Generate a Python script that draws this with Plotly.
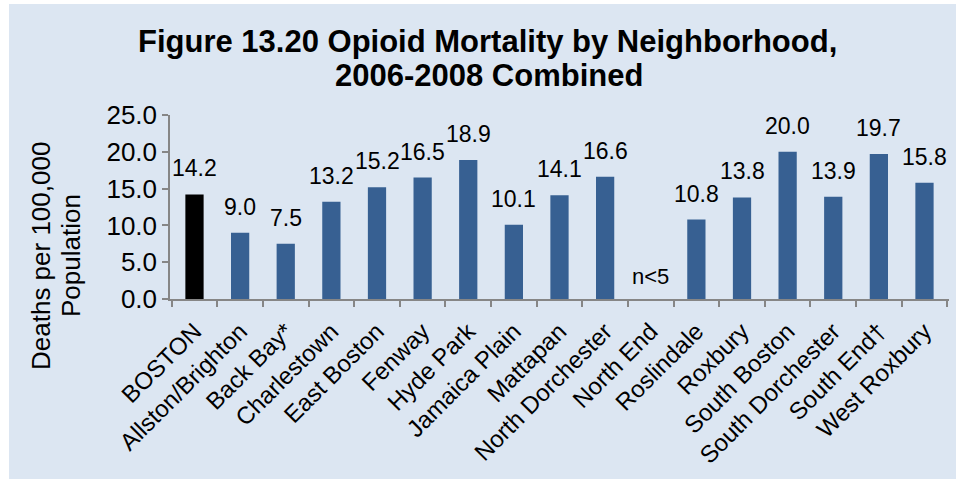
import plotly.graph_objects as go

categories = ["BOSTON", "Allston/Brighton", "Back Bay*", "Charlestown", "East Boston",
              "Fenway", "Hyde Park", "Jamaica Plain", "Mattapan", "North Dorchester",
              "North End", "Roslindale", "Roxbury", "South Boston", "South Dorchester",
              "South End\u2020", "West Roxbury"]
values = [14.2, 9.0, 7.5, 13.2, 15.2, 16.5, 18.9, 10.1, 14.1, 16.6,
          None, 10.8, 13.8, 20.0, 13.9, 19.7, 15.8]
suppressed_label = "n<5"
y_ticks = [0, 5, 10, 15, 20, 25]
title_lines = ["Figure 13.20 Opioid Mortality by Neighborhood,", "2006-2008 Combined"]
y_title_lines = ["Deaths per 100,000", "Population"]

FONT = "Arial, Liberation Sans, sans-serif"
BLUE = "#376092"
colors = ["#000000" if c == "BOSTON" else BLUE for c in categories]

W, H = 956, 479
ML, MR, MT, MB = 170, 7, 115, 180
pw = W - ML - MR
ph = H - MT - MB


def px_x(x):
    return (x - ML) / pw


def px_y(y):
    return (H - MB - y) / ph


fig = go.Figure(go.Bar(
    x=categories, y=values, marker=dict(color=colors, line=dict(width=0)),
    width=0.4, hoverinfo="x+y",
))

# data labels
for c, v in zip(categories, values):
    if v is None:
        fig.add_annotation(x=c, y=0, yref="y", text=suppressed_label, showarrow=False,
                           yanchor="bottom", yshift=8,
                           font=dict(family=FONT, size=22, color="#000000"))
    else:
        fig.add_annotation(x=c, y=v, yref="y", text=f"{v:.1f}", showarrow=False,
                           yanchor="bottom", yshift=11,
                           font=dict(family=FONT, size=23, color="#000000"))

# title (two lines, tight spacing)
fig.add_annotation(xref="paper", yref="paper", x=px_x(487), y=px_y(41),
                   text=f"<b>{title_lines[0]}</b>", showarrow=False,
                   xanchor="center", yanchor="middle",
                   font=dict(family=FONT, size=31, color="#000000"))
fig.add_annotation(xref="paper", yref="paper", x=px_x(489), y=px_y(75.5),
                   text=f"<b>{title_lines[1]}</b>", showarrow=False,
                   xanchor="center", yanchor="middle",
                   font=dict(family=FONT, size=31, color="#000000"))

# y-axis title (two rotated lines)
fig.add_annotation(xref="paper", yref="paper", x=px_x(41), y=px_y(256),
                   text=y_title_lines[0], showarrow=False, textangle=-90,
                   xanchor="center", yanchor="middle",
                   font=dict(family=FONT, size=26, color="#000000"))
fig.add_annotation(xref="paper", yref="paper", x=px_x(71), y=px_y(256),
                   text=y_title_lines[1], showarrow=False, textangle=-90,
                   xanchor="center", yanchor="middle",
                   font=dict(family=FONT, size=26, color="#000000"))

fig.add_shape(type="rect", xref="paper", yref="paper", layer="below",
              x0=px_x(9), x1=px_x(W + 2), y0=px_y(H + 2), y1=px_y(4),
              fillcolor="#DCE6F2", line=dict(width=0))

fig.update_layout(
    width=W, height=H,
    margin=dict(l=ML, r=MR, t=MT, b=MB, autoexpand=False),
    paper_bgcolor="white", plot_bgcolor="rgba(0,0,0,0)",
    showlegend=False,
    font=dict(family=FONT, color="#000000"),
)
fig.update_xaxes(type="category", tickangle=-45, tickson="boundaries", automargin=False,
                 ticks="outside", ticklen=6, tickcolor="#868686", tickwidth=1.5,
                 ticklabelstandoff=7,
                 showline=True, linecolor="#868686", linewidth=1.5,
                 tickfont=dict(family=FONT, size=24, color="#000000"),
                 showgrid=False)
fig.update_yaxes(range=[0, 25], tickvals=y_ticks, ticktext=[f"{t:.1f}" for t in y_ticks],
                 automargin=False,
                 ticks="outside", ticklen=6, tickcolor="#868686", tickwidth=1.5,
                 showline=True, linecolor="#868686", linewidth=1.5, showgrid=False,
                 zeroline=False,
                 tickfont=dict(family=FONT, size=26, color="#000000"))

fig.write_html("out.html", config={"displayModeBar": False},
               post_script="document.body.style.margin='0';document.body.style.overflow='hidden';")
